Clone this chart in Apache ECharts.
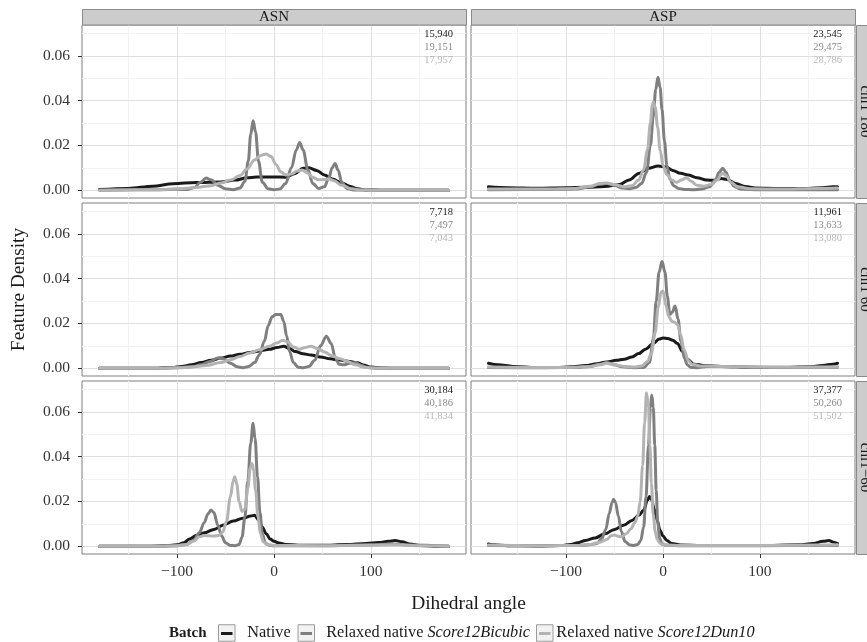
<!DOCTYPE html>
<html><head><meta charset="utf-8">
<script src="https://cdn.jsdelivr.net/npm/echarts@6/dist/echarts.min.js"></script>
<style>html,body{margin:0;padding:0;background:#fff}#c{width:867px;height:642px}</style>
</head><body><div id="c"></div>
<script>
// ---------- data ----------
const residues = ['ASN', 'ASP'];
const rotamers = ['chi1 180', 'chi1 60', 'chi1\u221260'];
const batchNames = ['Native', 'Relaxed native Score12Bicubic', 'Relaxed native Score12Dun10'];
const xTicks = [-100, 0, 100];
const xMinorTicks = [-150, -50, 50, 150];
const yTicks = [0, 0.02, 0.04, 0.06];
const yMinorTicks = [0.01, 0.03, 0.05, 0.07];

const countsASN180 = ['15,940', '19,151', '17,957'];
const countsASP180 = ['23,545', '29,475', '28,786'];
const countsASN60 = ['7,718', '7,497', '7,043'];
const countsASP60 = ['11,961', '13,633', '13,080'];
const countsASNm60 = ['30,184', '40,186', '41,834'];
const countsASPm60 = ['37,377', '50,260', '51,502'];

// ASN chi1 180
const asn180Native = [[-180,0.0003],[-150,0.0008],[-125,0.0018],[-104,0.0029],[-80,0.0034],[-55,0.0037],[-40,0.0045],[-28,0.0055],[-18,0.0059],[0,0.0059],[12,0.0058],[22,0.0075],[30,0.0098],[36,0.0100],[44,0.0088],[52,0.0068],[60,0.0050],[70,0.0032],[78,0.0018],[86,0.0006],[95,0.0001],[110,0],[180,0]];
const asn180Bicubic = [[-180,0],[-120,0.0002],[-100,0.0004],[-90,0.0003],[-82,0.0012],[-76,0.0035],[-70,0.0054],[-65,0.0046],[-58,0.0022],[-50,0.0006],[-42,0.0002],[-35,0.001],[-30,0.004],[-26.5,0.013],[-24,0.025],[-21.5,0.031],[-19,0.026],[-16,0.013],[-12,0.0035],[-6,0.0006],[0,0.0002],[6,0.0005],[12,0.003],[18,0.010],[23,0.018],[26.5,0.0213],[30,0.018],[35,0.009],[40,0.003],[46,0.0008],[52,0.0015],[56.5,0.0055],[60,0.010],[63,0.0119],[66,0.009],[70,0.0035],[75,0.0008],[82,0.0001],[100,0],[180,0]];
const asn180Dun10 = [[-180,0],[-120,0.0002],[-100,0.0006],[-80,0.0012],[-65,0.002],[-55,0.0032],[-45,0.0045],[-35,0.0065],[-28,0.0095],[-20,0.0135],[-14,0.0155],[-8,0.0162],[-3,0.0150],[2,0.0115],[7,0.0082],[12,0.0068],[18,0.0072],[24,0.0086],[29,0.0090],[34,0.0078],[40,0.0058],[46,0.0046],[52,0.0048],[57,0.005],[62,0.0042],[70,0.0022],[80,0.0006],[90,0.0001],[100,0],[180,0]];

// ASP chi1 180
const asp180Native = [[-180,0.0015],[-160,0.0011],[-130,0.0009],[-100,0.0011],[-80,0.0013],[-60,0.0016],[-45,0.0025],[-35,0.0045],[-25,0.0075],[-15,0.0098],[-5,0.0108],[3,0.0104],[10,0.0088],[18,0.0076],[26,0.0068],[35,0.0056],[45,0.0045],[53,0.0044],[60,0.0052],[66,0.0048],[75,0.0030],[85,0.0016],[95,0.0010],[120,0.0008],[150,0.0008],[165,0.0011],[175,0.0015],[180,0.0015]];
const asp180Bicubic = [[-180,0.0002],[-120,0.0003],[-90,0.0005],[-75,0.0015],[-65,0.0028],[-58,0.0030],[-50,0.0022],[-42,0.0010],[-35,0.0006],[-28,0.0012],[-22,0.003],[-17,0.008],[-13,0.02],[-10,0.033],[-7.5,0.045],[-5.2,0.0504],[-3,0.046],[-1,0.036],[1.5,0.022],[4,0.011],[7,0.005],[11,0.002],[16,0.0008],[22,0.0003],[30,0.0002],[40,0.0005],[48,0.0015],[54,0.0045],[58,0.008],[61.5,0.0098],[65,0.008],[69,0.004],[74,0.0015],[80,0.0005],[100,0.0002],[180,0.0002]];
const asp180Dun10 = [[-180,0.0005],[-120,0.0005],[-90,0.0008],[-75,0.0018],[-65,0.003],[-58,0.0032],[-50,0.0025],[-40,0.0015],[-32,0.002],[-25,0.0045],[-20,0.009],[-16,0.018],[-13,0.03],[-11,0.038],[-10,0.0395],[-8,0.037],[-5.5,0.028],[-3,0.018],[0,0.011],[4,0.007],[9,0.0045],[14,0.0035],[19,0.0045],[24,0.0055],[29,0.004],[35,0.0022],[42,0.0018],[50,0.0025],[56,0.0045],[61,0.0075],[65,0.0065],[70,0.0035],[77,0.0015],[90,0.0006],[120,0.0005],[160,0.0008],[180,0.001]];

// ASN chi1 60
const asn60Native = [[-180,0],[-120,0],[-105,0.0003],[-95,0.0008],[-85,0.0015],[-75,0.0025],[-65,0.0035],[-55,0.0045],[-45,0.0054],[-35,0.0062],[-25,0.007],[-15,0.0077],[-5,0.0084],[3,0.0092],[10,0.0098],[16,0.0088],[22,0.0074],[30,0.0064],[38,0.0059],[48,0.0050],[58,0.0042],[68,0.0036],[78,0.0030],[86,0.0024],[92,0.0014],[100,0.0005],[110,0.0001],[120,0],[180,0]];
const asn60Bicubic = [[-180,0],[-120,0],[-100,0.0002],[-85,0.0006],[-75,0.0015],[-66,0.003],[-58,0.0045],[-52,0.0042],[-45,0.0022],[-38,0.0006],[-32,0.0002],[-26,0.0008],[-20,0.0025],[-15,0.006],[-10,0.012],[-6,0.019],[-2,0.023],[2,0.024],[7,0.024],[10,0.021],[13,0.0145],[16,0.0075],[20,0.0025],[25,0.0004],[30,0.0002],[36,0.0008],[42,0.0035],[48,0.010],[54,0.0143],[59,0.011],[63,0.005],[67,0.0018],[72,0.0015],[78,0.0022],[84,0.0025],[90,0.0012],[96,0.0003],[105,0],[180,0]];
const asn60Dun10 = [[-180,0],[-120,0],[-100,0.0002],[-85,0.0005],[-70,0.0012],[-55,0.0025],[-45,0.0038],[-35,0.0052],[-25,0.0068],[-15,0.0082],[-5,0.0098],[3,0.0112],[9,0.0125],[14,0.0118],[20,0.0095],[26,0.0085],[32,0.0092],[38,0.0098],[45,0.0088],[52,0.0072],[60,0.0055],[68,0.0042],[76,0.003],[84,0.0015],[92,0.0005],[100,0.0001],[110,0],[180,0]];

// ASP chi1 60
const asp60Native = [[-180,0.0022],[-170,0.0015],[-155,0.0008],[-130,0.0003],[-110,0.0003],[-95,0.0006],[-80,0.0012],[-68,0.002],[-58,0.0028],[-48,0.0035],[-40,0.004],[-32,0.005],[-25,0.0065],[-18,0.0085],[-10,0.011],[-4,0.013],[0,0.0135],[5,0.0132],[10,0.0125],[15,0.011],[20,0.0075],[25,0.004],[32,0.0018],[42,0.0012],[60,0.0008],[90,0.0004],[120,0.0003],[150,0.0006],[165,0.0012],[175,0.0018],[180,0.0022]];
const asp60Bicubic = [[-180,0.0003],[-120,0.0002],[-90,0.0003],[-75,0.0008],[-65,0.0018],[-58,0.0025],[-50,0.0015],[-42,0.0006],[-30,0.0002],[-20,0.0003],[-14,0.0025],[-10,0.013],[-7,0.030],[-4,0.043],[-1,0.0477],[2,0.043],[4.5,0.032],[7,0.024],[9.5,0.025],[12.5,0.0278],[15.5,0.022],[18.5,0.012],[22,0.0045],[25,0.0015],[29,0.0003],[35,0.0002],[45,0.0008],[60,0.0008],[100,0.0004],[180,0.0004]];
const asp60Dun10 = [[-180,0.0005],[-120,0.0003],[-90,0.0004],[-75,0.0008],[-65,0.0015],[-58,0.0022],[-50,0.0015],[-40,0.0008],[-30,0.0005],[-22,0.001],[-16,0.003],[-12,0.0065],[-8,0.016],[-5,0.027],[-2,0.034],[0,0.0345],[3,0.028],[6,0.023],[9,0.021],[12,0.0205],[15,0.0195],[18,0.015],[22,0.008],[26,0.0035],[30,0.0018],[38,0.001],[50,0.0009],[80,0.0006],[120,0.0004],[160,0.0005],[180,0.0006]];

// ASN chi1 -60
const asnm60Native = [[-180,0],[-130,0],[-110,0.0002],[-100,0.0006],[-93,0.0015],[-87,0.0032],[-80,0.0048],[-72,0.006],[-62,0.0075],[-52,0.0095],[-42,0.0112],[-32,0.0125],[-24,0.0135],[-20,0.0138],[-16,0.0118],[-12,0.0085],[-8,0.0055],[-4,0.0032],[0,0.0022],[5,0.0014],[12,0.0008],[25,0.0004],[50,0.0004],[75,0.0007],[95,0.0012],[108,0.0016],[118,0.0022],[125,0.0025],[132,0.002],[140,0.001],[150,0.0003],[165,0],[180,0]];
const asnm60Bicubic = [[-180,0],[-120,0],[-100,0.0002],[-90,0.0008],[-83,0.0025],[-77,0.006],[-72,0.0105],[-68,0.0145],[-65,0.0162],[-62,0.015],[-58,0.0095],[-54,0.0045],[-50,0.0015],[-45,0.0003],[-40,0.0002],[-36,0.0008],[-33,0.004],[-30,0.013],[-27,0.029],[-24,0.046],[-21.6,0.0549],[-19.5,0.048],[-17,0.031],[-14.5,0.015],[-12,0.0055],[-9,0.0015],[-5,0.0004],[0,0.0002],[50,0.0002],[100,0.0006],[120,0.001],[140,0.0005],[180,0]];
const asnm60Dun10 = [[-180,0],[-120,0],[-100,0.0002],[-90,0.0008],[-83,0.0022],[-77,0.0042],[-72,0.0048],[-67,0.0046],[-62,0.0045],[-57,0.0048],[-53,0.0062],[-49,0.011],[-45,0.022],[-42,0.0295],[-40.5,0.031],[-38.5,0.028],[-36,0.020],[-33,0.0155],[-30,0.0165],[-27,0.026],[-24.5,0.035],[-22.7,0.0369],[-21,0.034],[-19,0.025],[-16.5,0.013],[-14,0.0055],[-11,0.002],[-7,0.0007],[0,0.0003],[50,0.0002],[100,0.0004],[125,0.0006],[150,0.0002],[180,0]];

// ASP chi1 -60
const aspm60Native = [[-180,0.001],[-175,0.0006],[-160,0.0002],[-130,0.0001],[-105,0.0003],[-95,0.0008],[-88,0.0015],[-80,0.0025],[-70,0.0037],[-60,0.0055],[-50,0.0075],[-40,0.0095],[-32,0.0115],[-25,0.0138],[-20,0.016],[-16,0.0205],[-14,0.0222],[-12,0.021],[-9,0.0165],[-6,0.0115],[-3,0.007],[0,0.0045],[4,0.0025],[9,0.0012],[18,0.0005],[40,0.0003],[100,0.0003],[140,0.0006],[155,0.0012],[165,0.0022],[171,0.0025],[176,0.0018],[180,0.0012]];
const aspm60Bicubic = [[-180,0.0003],[-120,0.0002],[-90,0.0003],[-75,0.0006],[-68,0.0012],[-63,0.0035],[-59,0.0075],[-55.5,0.0145],[-52.5,0.0195],[-51,0.021],[-49,0.0195],[-46,0.0135],[-43,0.0065],[-39,0.002],[-34,0.0005],[-30,0.0003],[-26,0.0008],[-23,0.0025],[-20,0.0085],[-17.5,0.022],[-15,0.045],[-13,0.062],[-11.6,0.0675],[-10,0.062],[-8.5,0.045],[-7,0.025],[-5.5,0.011],[-3.5,0.0035],[-1,0.001],[3,0.0004],[20,0.0002],[100,0.0002],[160,0.0003],[180,0.0003]];
const aspm60Dun10 = [[-180,0.0005],[-120,0.0002],[-90,0.0003],[-75,0.0008],[-65,0.0018],[-58,0.003],[-53,0.0048],[-50,0.005],[-47,0.0045],[-43,0.0042],[-38,0.0055],[-33,0.0078],[-29,0.0105],[-26,0.0135],[-23.5,0.02],[-21,0.036],[-19,0.055],[-17,0.0685],[-15,0.062],[-13.5,0.045],[-12,0.028],[-10,0.014],[-8,0.0065],[-6,0.003],[-3,0.0012],[0,0.0006],[20,0.0003],[100,0.0003],[160,0.0005],[180,0.0006]];

// ---------- layout / styles ----------
const SERIF = '"Liberation Serif","DejaVu Serif",serif';
const seriesColors = ['#1a1a1a', '#7f7f7f', '#b3b3b3'];
const countColors = ['#1a1a1a', '#8c8c8c', '#b8b8b8'];
const colLeft = [82, 471];
const rowTop = [25, 203, 381];
const PW = 384, PH = 173;
const XMIN = -198, XMAX = 198, YMIN = -0.0035, YMAX = 0.0738;

const panels = [
  { r: 0, c: 0, lines: [asn180Native, asn180Bicubic, asn180Dun10], counts: countsASN180 },
  { r: 0, c: 1, lines: [asp180Native, asp180Bicubic, asp180Dun10], counts: countsASP180 },
  { r: 1, c: 0, lines: [asn60Native, asn60Bicubic, asn60Dun10], counts: countsASN60 },
  { r: 1, c: 1, lines: [asp60Native, asp60Bicubic, asp60Dun10], counts: countsASP60 },
  { r: 2, c: 0, lines: [asnm60Native, asnm60Bicubic, asnm60Dun10], counts: countsASNm60 },
  { r: 2, c: 1, lines: [aspm60Native, aspm60Bicubic, aspm60Dun10], counts: countsASPm60 }
];

const grid = [], xAxis = [], yAxis = [], series = [], graphic = [];

panels.forEach((p, k) => {
  grid.push({ left: colLeft[p.c], top: rowTop[p.r], width: PW, height: PH,
    show: true, borderColor: '#7f7f7f', borderWidth: 1, backgroundColor: '#fff', containLabel: false });
  const bottomRow = p.r === 2, leftCol = p.c === 0;
  // major x
  xAxis.push({ type: 'value', gridIndex: k, min: XMIN, max: XMAX, z: 1, position: 'bottom',
    axisLine: { show: false, onZero: false },
    axisTick: { show: bottomRow, customValues: xTicks, length: 4, inside: false, lineStyle: { color: '#333' } },
    axisLabel: { show: bottomRow, customValues: xTicks, margin: 10, fontFamily: SERIF, fontSize: 15.5, color: '#333',
      formatter: v => (v < 0 ? '\u2212' + Math.abs(v) : '' + v) },
    splitLine: { show: true, lineStyle: { color: '#dedede', width: 1 } } });
  // minor x
  xAxis.push({ type: 'value', gridIndex: k, min: XMIN, max: XMAX, z: 0, position: 'bottom',
    axisLine: { show: false, onZero: false }, axisTick: { show: false, customValues: xMinorTicks },
    axisLabel: { show: false, customValues: xMinorTicks },
    splitLine: { show: true, lineStyle: { color: '#f2f2f2', width: 1 } } });
  // major y
  yAxis.push({ type: 'value', gridIndex: k, min: YMIN, max: YMAX, z: 1, position: 'left',
    axisLine: { show: false, onZero: false },
    axisTick: { show: leftCol, customValues: yTicks, length: 4, lineStyle: { color: '#333' } },
    axisLabel: { show: leftCol, customValues: yTicks, margin: 12, fontFamily: SERIF, fontSize: 15.5, color: '#333',
      formatter: v => v.toFixed(2) },
    splitLine: { show: true, lineStyle: { color: '#dedede', width: 1 } } });
  // minor y
  yAxis.push({ type: 'value', gridIndex: k, min: YMIN, max: YMAX, z: 0, position: 'left',
    axisLine: { show: false, onZero: false }, axisTick: { show: false, customValues: yMinorTicks },
    axisLabel: { show: false, customValues: yMinorTicks },
    splitLine: { show: true, lineStyle: { color: '#f2f2f2', width: 1 } } });

  p.lines.forEach((d, s) => {
    series.push({ type: 'line', name: batchNames[s], xAxisIndex: 2 * k, yAxisIndex: 2 * k,
      data: d, showSymbol: false, smooth: 0.35, smoothMonotone: 'x', silent: true, z: 3 + s,
      lineStyle: { color: seriesColors[s], width: 3, join: 'round', cap: 'round' } });
  });

  // sample counts
  p.counts.forEach((t, i) => {
    graphic.push({ type: 'text', x: colLeft[p.c] + 371, y: rowTop[p.r] + 9.5 + i * 12.7, z: 10,
      style: { text: t, fill: countColors[i], font: '10.5px ' + SERIF, textAlign: 'right', textVerticalAlign: 'middle' } });
  });
});

// strips (facet labels)
residues.forEach((name, c) => {
  graphic.push({ type: 'rect', shape: { x: colLeft[c] + 0.5, y: 9.5, width: PW, height: 15.5 },
    style: { fill: '#cccccc', stroke: '#8a8a8a', lineWidth: 1 }, z: 5 });
  graphic.push({ type: 'text', x: colLeft[c] + PW / 2, y: 17.5, z: 6,
    style: { text: name, fill: '#1a1a1a', font: '15px ' + SERIF, textAlign: 'center', textVerticalAlign: 'middle' } });
});
rotamers.forEach((name, r) => {
  graphic.push({ type: 'rect', shape: { x: 856.5, y: rowTop[r] + 0.5, width: 16, height: PH },
    style: { fill: '#cccccc', stroke: '#8a8a8a', lineWidth: 1 }, z: 5 });
  graphic.push({ type: 'text', x: 864.5, y: rowTop[r] + PH / 2, rotation: -Math.PI / 2, z: 6,
    style: { text: name, fill: '#1a1a1a', font: '15px ' + SERIF, textAlign: 'center', textVerticalAlign: 'middle' } });
});

// axis titles
graphic.push({ type: 'text', x: 18.5, y: 289.5, rotation: Math.PI / 2, z: 6,
  style: { text: 'Feature Density', fill: '#1a1a1a', font: '19.4px ' + SERIF, textAlign: 'center', textVerticalAlign: 'middle' } });
graphic.push({ type: 'text', x: 468.5, y: 604, z: 6,
  style: { text: 'Dihedral angle', fill: '#1a1a1a', font: '19.4px ' + SERIF, textAlign: 'center', textVerticalAlign: 'middle' } });

// legend
const LY = 633;
graphic.push({ type: 'text', x: 169, y: LY, z: 6,
  style: { text: 'Batch', fill: '#1a1a1a', font: 'bold 15px ' + SERIF, textAlign: 'left', textVerticalAlign: 'middle' } });
const keyX = [218, 297.5, 536];
const textX = [247.3, 326.2, 556.3];
const KS = 16.5;
batchNames.forEach((name, i) => {
  graphic.push({ type: 'rect', shape: { x: keyX[i] + 0.5, y: LY - KS / 2, width: KS, height: KS },
    style: { fill: '#f2f2f2', stroke: '#9a9a9a', lineWidth: 1 }, z: 6 });
  graphic.push({ type: 'line', shape: { x1: keyX[i] + 3, y1: LY + 0.5, x2: keyX[i] + KS - 2, y2: LY + 0.5 },
    style: { stroke: seriesColors[i], lineWidth: 3 }, z: 7 });
  const parts = name.split(' ');
  let txt;
  if (i === 0) txt = '{n|' + name + '}';
  else txt = '{n|' + parts.slice(0, 2).join(' ') + ' }{i|' + parts.slice(2).join(' ') + '}';
  graphic.push({ type: 'text', x: textX[i], y: LY, z: 6,
    style: { text: txt, textAlign: 'left', textVerticalAlign: 'middle',
      rich: { n: { fontFamily: SERIF, fontSize: 16.3, fill: '#1a1a1a', color: '#1a1a1a' },
              i: { fontFamily: SERIF, fontSize: 16.3, fontStyle: 'italic', fill: '#1a1a1a', color: '#1a1a1a' } } } });
});

const chart = echarts.init(document.getElementById('c'), null, { renderer: 'canvas' });
chart.setOption({ animation: false, backgroundColor: '#fff', grid, xAxis, yAxis, series, graphic });
</script></body></html>
